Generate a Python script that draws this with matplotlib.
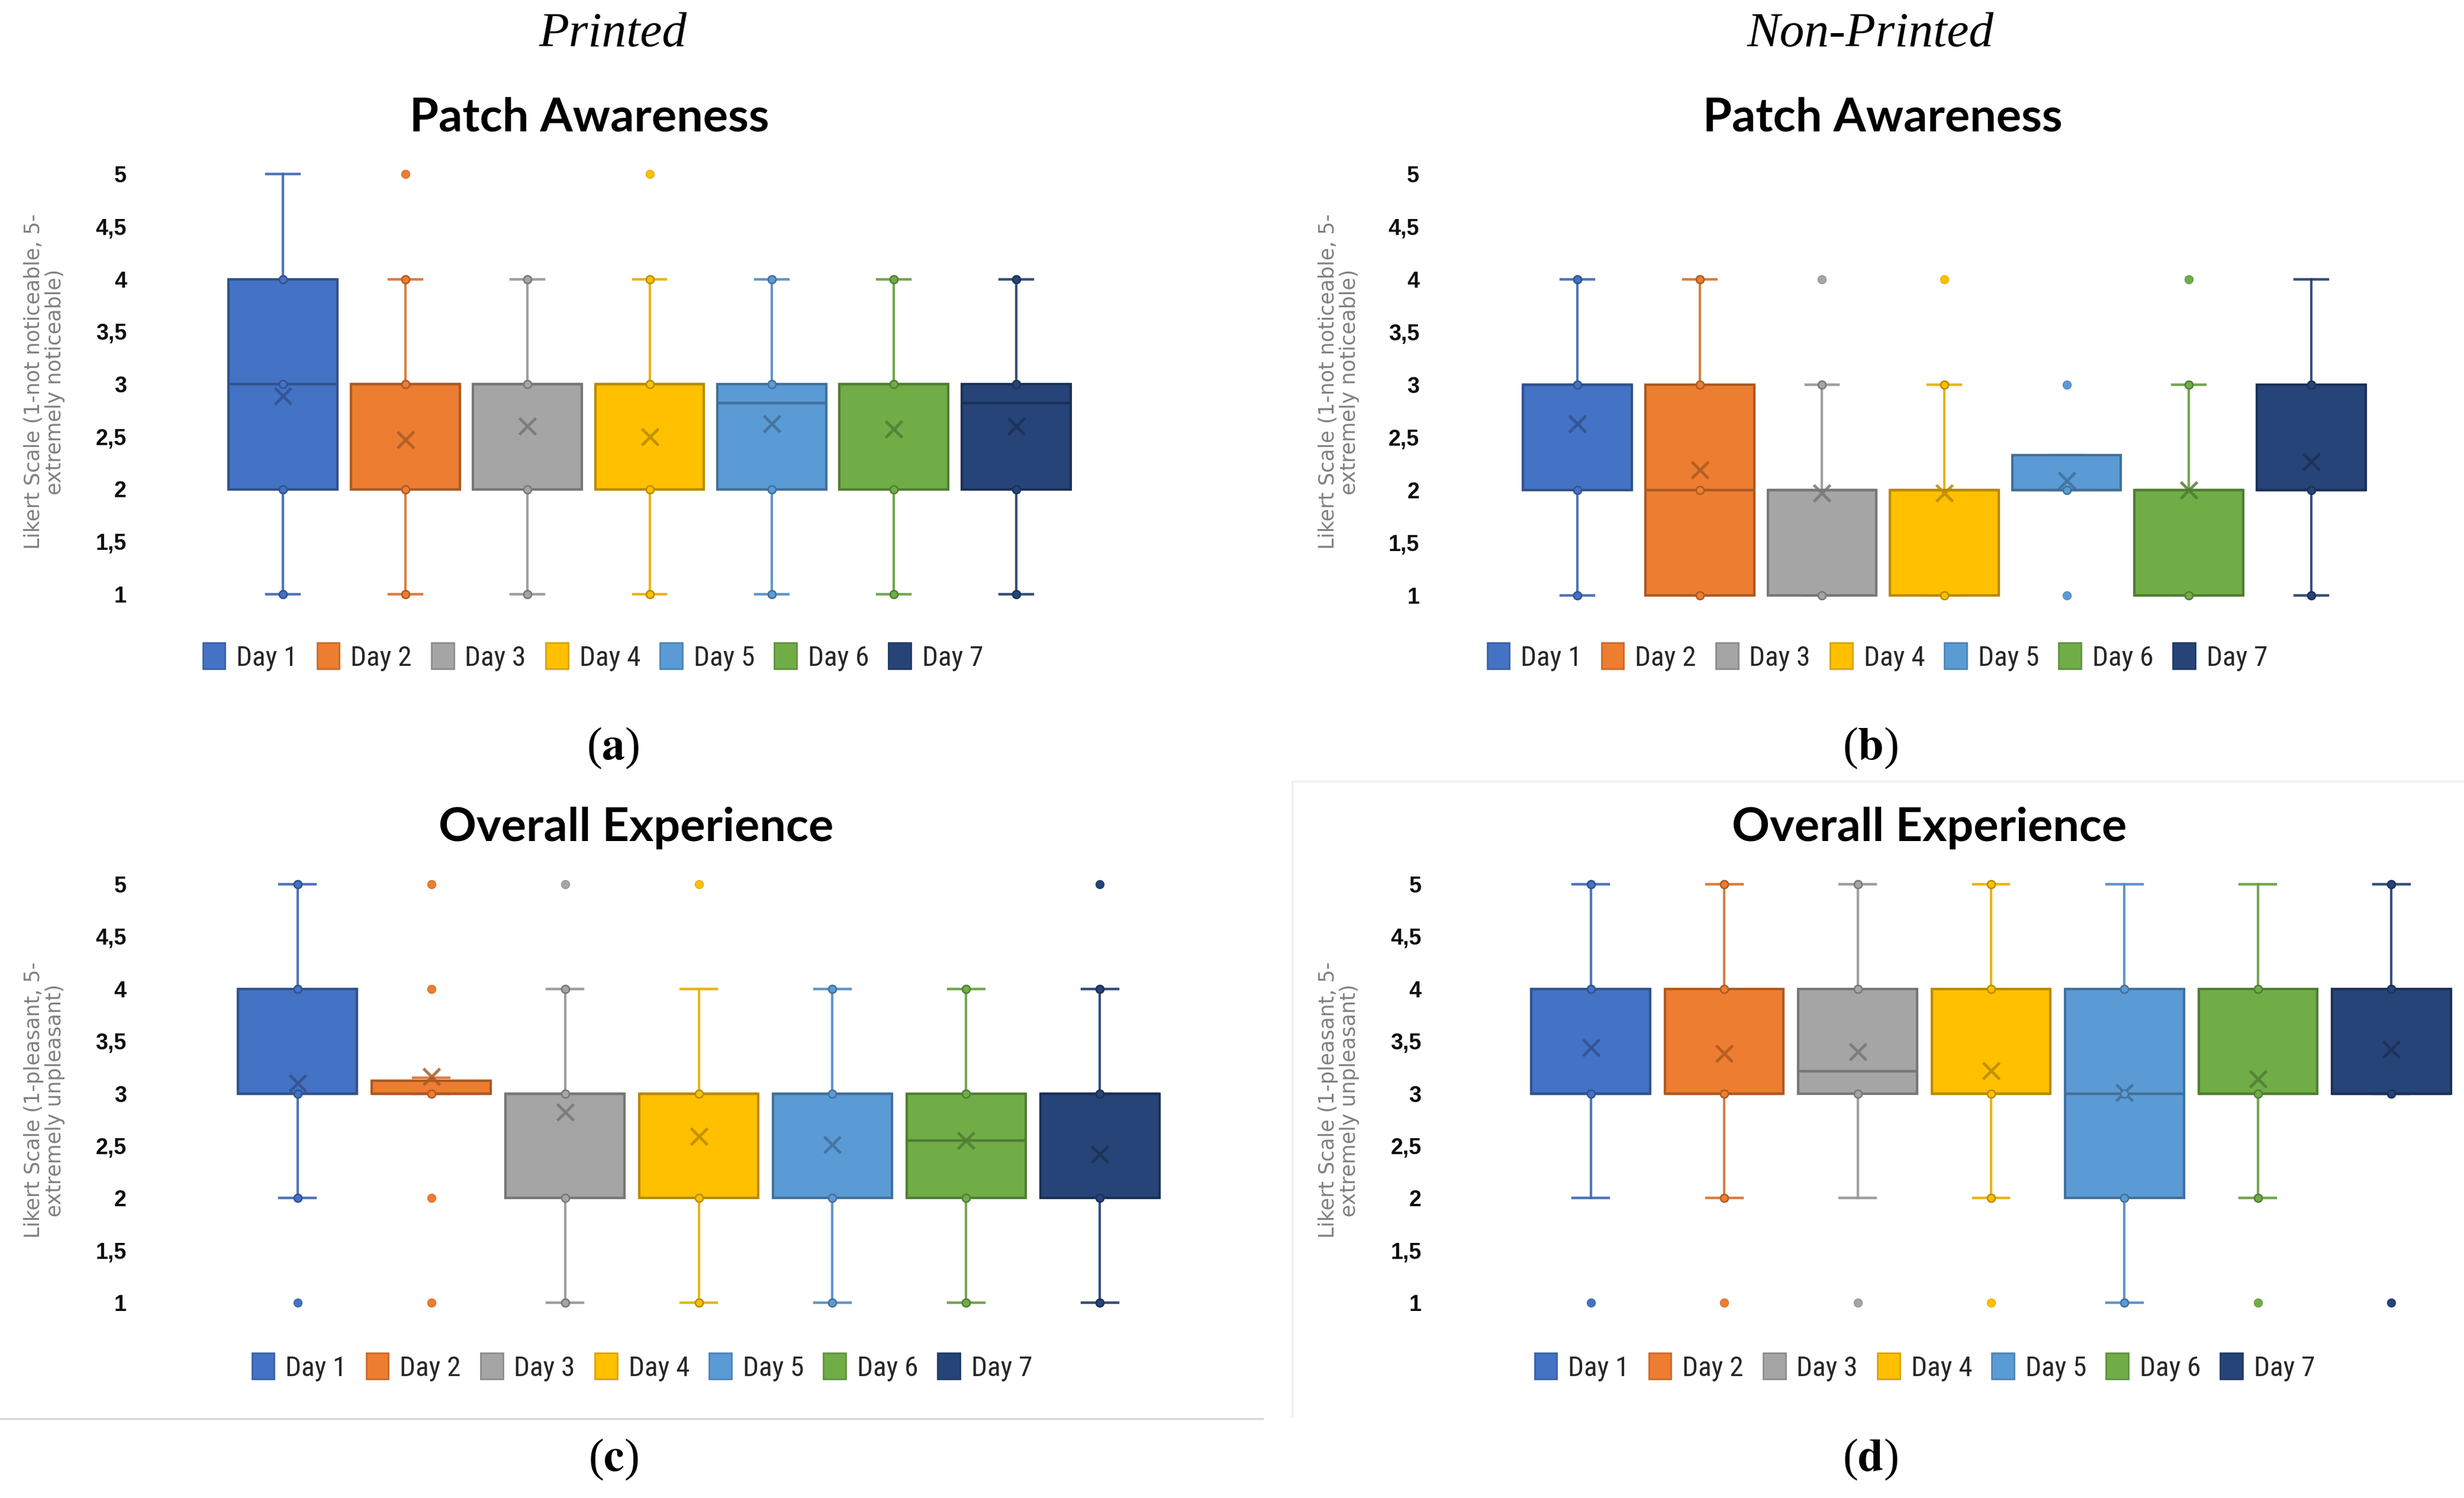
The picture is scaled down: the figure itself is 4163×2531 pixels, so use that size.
import numpy as np
import matplotlib
matplotlib.use("Agg")
import matplotlib.pyplot as plt
from matplotlib.colors import to_rgb
from matplotlib.patches import Patch
from matplotlib.lines import Line2D

W, H = 4163, 2531

days = ["Day 1", "Day 2", "Day 3", "Day 4", "Day 5", "Day 6", "Day 7"]
colors = ["#4472C4", "#ED7D31", "#A5A5A5", "#FFC000", "#5B9BD5", "#70AD47", "#264478"]
yticks = [1, 1.5, 2, 2.5, 3, 3.5, 4, 4.5, 5]
ytick_labels = ["1", "1,5", "2", "2,5", "3", "3,5", "4", "4,5", "5"]

# (a) Printed - Patch Awareness
a_q1 = [2, 2, 2, 2, 2, 2, 2]
a_med = [3, 3, 3, 3, 2.82, 3, 2.82]
a_q3 = [4, 3, 3, 3, 3, 3, 3]
a_lo = [1, 1, 1, 1, 1, 1, 1]
a_hi = [5, 4, 4, 4, 4, 4, 4]
a_mean = [2.89, 2.47, 2.60, 2.50, 2.62, 2.57, 2.60]
a_out = [[], [5], [], [5], [], [], []]
a_pts = [[1, 2, 3, 4], [1, 2, 3, 4], [1, 2, 3, 4], [1, 2, 3, 4],
         [1, 2, 3, 4], [1, 2, 3, 4], [1, 2, 3, 4]]

# (b) Non-Printed - Patch Awareness
b_q1 = [2, 1, 1, 1, 2, 1, 2]
b_med = [3, 2, 2, 2, 2, 2, 2]
b_q3 = [3, 3, 2, 2, 2.33, 2, 3]
b_lo = [1, 1, 1, 1, 2, 1, 1]
b_hi = [4, 4, 3, 3, 2.33, 3, 4]
b_mean = [2.63, 2.19, 1.97, 1.97, 2.09, 2.0, 2.27]
b_out = [[], [], [4], [4], [3, 1], [4], []]
b_pts = [[1, 2, 3, 4], [1, 2, 3, 4], [1, 3], [1, 3], [2], [1, 3], [1, 2, 3]]

# (c) Printed - Overall Experience
c_q1 = [3, 3, 2, 2, 2, 2, 2]
c_med = [3, 3, 3, 3, 3, 2.55, 3]
c_q3 = [4, 3.12, 3, 3, 3, 3, 3]
c_lo = [2, 3, 1, 1, 1, 1, 1]
c_hi = [5, 3.15, 4, 4, 4, 4, 4]
c_mean = [3.10, 3.16, 2.82, 2.59, 2.51, 2.55, 2.42]
c_out = [[1], [5, 4, 2, 1], [5], [5], [], [], [5]]
c_pts = [[2, 3, 4, 5], [3], [1, 2, 3, 4], [1, 2, 3], [1, 2, 3, 4],
         [1, 2, 3, 4], [1, 2, 3, 4]]

# (d) Non-Printed - Overall Experience
d_q1 = [3, 3, 3, 3, 2, 3, 3]
d_med = [3, 3, 3.21, 3, 3, 3, 3]
d_q3 = [4, 4, 4, 4, 4, 4, 4]
d_lo = [2, 2, 2, 2, 1, 2, 3]
d_hi = [5, 5, 5, 5, 5, 5, 5]
d_mean = [3.44, 3.38, 3.40, 3.22, 3.01, 3.14, 3.42]
d_out = [[1], [1], [1], [1], [], [1], [1]]
d_pts = [[3, 4, 5], [2, 3, 4, 5], [3, 4, 5], [2, 3, 4, 5], [1, 2, 3, 4],
         [2, 3, 4], [3, 4, 5]]

NARROW = ["Liberation Sans Narrow", "Roboto Condensed", "DejaVu Sans"]
TICKF = ["Liberation Sans", "DejaVu Sans"]
SERIF = ["Liberation Serif", "DejaVu Serif"]
plt.rcParams["mathtext.fontset"] = "stix"


def dark(c, f=0.72):
    return tuple(np.array(to_rgb(c)) * f)


def px_axes(fig, left, right, top, bottom):
    return fig.add_axes([left / W, 1 - bottom / H, (right - left) / W, (bottom - top) / H])


def draw_panel(ax, q1, med, q3, lo, hi, mean, out, pts, pad):
    stats = []
    for i in range(len(days)):
        stats.append(dict(q1=q1[i], med=med[i], q3=q3[i], whislo=lo[i],
                          whishi=hi[i], mean=mean[i], fliers=[]))
    bp = ax.bxp(stats, positions=range(len(days)), widths=0.89, patch_artist=True,
                showmeans=True, showfliers=False, capwidths=0.27, manage_ticks=False)
    for i, c in enumerate(colors):
        dc = dark(c)
        wc = dark(c, 0.9)
        bp["boxes"][i].set(facecolor=c, edgecolor=dc, linewidth=3, zorder=3)
        bp["medians"][i].set(color=dc, linewidth=3.2, zorder=4)
        for ln in bp["whiskers"][2 * i:2 * i + 2]:
            ln.set(color=wc, linewidth=3.0, alpha=0.9, zorder=2)
        for ln in bp["caps"][2 * i:2 * i + 2]:
            ln.set(color=wc, linewidth=3.2, alpha=0.9, zorder=2)
        bp["means"][i].set(marker="x", color=dc, markeredgecolor=dc, markersize=20,
                           markeredgewidth=3.5, linestyle="none", zorder=5, alpha=0.85)
        ax.plot(np.full(len(pts[i]), i), pts[i], "o", ms=9.5, mfc=c, mec=dc, mew=1.8,
                zorder=6, clip_on=False)
        ax.plot(np.full(len(out[i]), i), out[i], "o", ms=10, mfc=c, mec=wc, mew=1,
                zorder=6, clip_on=False)
    for key in bp:
        for art in bp[key]:
            art.set_clip_on(False)
    ax.set_xlim(-0.5, len(days) - 0.5)
    ax.set_ylim(1, 5)
    ax.set_yticks(yticks)
    ax.set_yticklabels(ytick_labels, fontfamily=TICKF, fontweight="bold", fontsize=27,
                       color="#0d0d0d")
    ax.set_xticks([])
    ax.tick_params(axis="y", length=0, pad=pad)
    for s in ax.spines.values():
        s.set_visible(False)


fig = plt.figure(figsize=(W / 100, H / 100), dpi=100)
fig.patch.set_facecolor("white")

panels = [
    (375, 1820, 294, 1004, (a_q1, a_med, a_q3, a_lo, a_hi, a_mean, a_out, a_pts), 116,
     "Patch Awareness", 996, 199, "Likert Scale (1-not noticeable, 5-\nextremely noticeable)",
     75, 645, 1002, 1110, "a", 1036, 1264),
    (2562, 4008, 294, 1006, (b_q1, b_med, b_q3, b_lo, b_hi, b_mean, b_out, b_pts), 118,
     "Patch Awareness", 3181, 199, "Likert Scale (1-not noticeable, 5-\nextremely noticeable)",
     2262, 645, 3172, 1110, "b", 3160, 1264),
    (390, 1971, 1494, 2201, (c_q1, c_med, c_q3, c_lo, c_hi, c_mean, c_out, c_pts), 127,
     "Overall Experience", 1075, 1399, "Likert Scale (1-pleasant, 5-\nextremely unpleasant)",
     75, 1859, 1085, 2310, "c", 1036, 2466),
    (2575, 4153, 1494, 2201, (d_q1, d_med, d_q3, d_lo, d_hi, d_mean, d_out, d_pts), 125,
     "Overall Experience", 3260, 1399, "Likert Scale (1-pleasant, 5-\nextremely unpleasant)",
     2262, 1859, 3252, 2310, "d", 3160, 2466),
]

for (l, r, t, b, data, pad, title, tx, ty, ylab, lx, ly, gx, gy, tag, cx, cy) in panels:
    ax = px_axes(fig, l, r, t, b)
    draw_panel(ax, *data, pad=pad)
    fig.text(tx / W, 1 - ty / H, title, fontfamily=["Lato", "DejaVu Sans"],
             fontweight="bold", fontsize=57, ha="center", va="center")
    fig.text(lx / W, 1 - ly / H, ylab, rotation=90, fontfamily="DejaVu Sans",
             fontsize=25, color="#808080", ha="center", va="center",
             multialignment="center", linespacing=1.1)
    handles = [Patch(facecolor=c, edgecolor=dark(c, 0.85), linewidth=2) for c in colors]
    fig.legend(handles, days, loc="center", bbox_to_anchor=(gx / W, 1 - gy / H),
               ncol=7, frameon=False, handlelength=0.8, handleheight=1.05,
               handletextpad=0.4, columnspacing=0.7,
               prop=dict(family=NARROW, size=34), labelcolor="#262626")
    fig.text(cx / W, 1 - cy / H, "($\\mathbf{%s}$)" % tag, fontfamily=SERIF,
             fontsize=56, ha="center", va="center")

fig.text(1036 / W, 1 - 58 / H, "Printed", fontfamily=SERIF,
         style="italic", fontsize=60, ha="center", va="center")
fig.text(3160 / W, 1 - 58 / H, "Non-Printed", fontfamily=SERIF,
         style="italic", fontsize=60, ha="center", va="center")

# faint panel borders
fig.add_artist(Line2D([0, 2133 / W], [1 - 2397 / H] * 2, color="#d9d9d9", lw=2.5))
fig.add_artist(Line2D([2183 / W] * 2, [1 - 1320 / H, 1 - 2393 / H], color="#f0f0f0", lw=2.5))
fig.add_artist(Line2D([2183 / W, 1], [1 - 1320 / H] * 2, color="#f0f0f0", lw=2.5))

fig.savefig("out.png", dpi=100)
